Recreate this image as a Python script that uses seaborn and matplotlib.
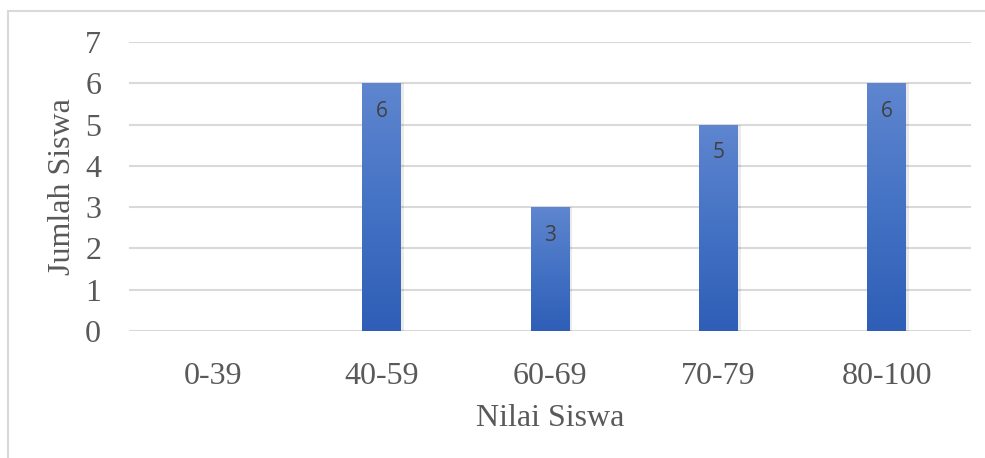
import numpy as np
import pandas as pd
import matplotlib
matplotlib.use("Agg")
import matplotlib.pyplot as plt
import seaborn as sns
from matplotlib.patches import Rectangle
from matplotlib.colors import LinearSegmentedColormap

categories = ["0-39", "40-59", "60-69", "70-79", "80-100"]
values = [0, 6, 3, 5, 6]
y_ticks = [0, 1, 2, 3, 4, 5, 6, 7]
x_title = "Nilai Siswa"
y_title = "Jumlah Siswa"

df = pd.DataFrame({"cat": categories, "val": values})

sns.set_theme(style="white")
plt.rcParams["font.family"] = ["Liberation Serif", "DejaVu Serif"]
text_col = "#595959"

fig = plt.figure(figsize=(9.85, 4.58), dpi=100)
ax = fig.add_axes([129/985, 1-331/458, (971-129)/985, (331-42)/458])

sns.barplot(data=df, x="cat", y="val", color="#4472c4", width=0.23, ax=ax,
            saturation=1, zorder=3, edgecolor="none")

ax.set_ylim(0, 7)
ax.set_xlim(-0.5, 4.5)
ax.set_yticks(y_ticks)
ax.set_yticklabels([str(t) for t in y_ticks])
ax.yaxis.grid(True, color="#d9d9d9", linewidth=1.5, zorder=0)
ax.set_axisbelow(True)
for s in ax.spines.values():
    s.set_visible(False)
ax.tick_params(axis="both", length=0, labelsize=23, colors=text_col)
ax.tick_params(axis="x", pad=22)
ax.tick_params(axis="y", pad=20)
ax.set_xlabel(x_title, fontsize=23, color=text_col, labelpad=10)
ax.set_ylabel(y_title, fontsize=23, color=text_col, labelpad=6)

cmap = LinearSegmentedColormap.from_list("g", ["#2e5eb6", "#4472c4", "#5f86cf"])
grad = np.linspace(0, 1, 256).reshape(-1, 1)
for p, v in zip(ax.patches, values):
    if v <= 0:
        continue
    x0, w, h = p.get_x(), p.get_width(), p.get_height()
    sh = Rectangle((x0 + w*0.04, 0), w*1.04, h, facecolor="#000000", alpha=0.08,
                   zorder=2, edgecolor="none")
    ax.add_patch(sh)
    im = ax.imshow(grad, extent=[x0, x0 + w, 0, h], origin="lower", cmap=cmap,
                   aspect="auto", zorder=4)
    im.set_clip_path(p)
    ax.text(x0 + w/2, h - 0.68, str(v), ha="center", va="center", fontsize=15,
            color="#404040", family=["Open Sans", "DejaVu Sans"], zorder=5)
ax.set_xlim(-0.5, 4.5)
ax.set_ylim(0, 7)

border = Rectangle((8/985, -0.1), 1.2, 1 - 11/458 + 0.1, transform=fig.transFigure,
                   fill=False, edgecolor="#d9d9d9", linewidth=1.5, zorder=0)
fig.patches.append(border)

fig.savefig("out.png", dpi=100)
